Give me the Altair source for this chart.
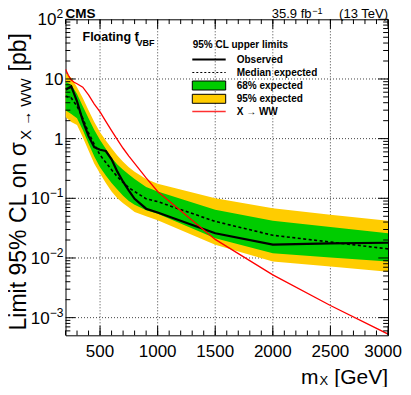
import altair as alt
import pandas as pd

# ---------------- data ----------------
mass = [200, 250, 300, 350, 400, 450, 500, 550, 600, 650, 700, 750, 800, 900, 1000, 1500, 2000, 2500, 3000]
observed = [6.6, 7.5, 4.2, 2.0, 1.1, 0.72, 0.65, 0.62, 0.45, 0.28, 0.19, 0.135, 0.098, 0.067, 0.058, 0.026, 0.0168, 0.0176, 0.018]
expected = [5.2, 4.8, 3.5, 2.2, 1.25, 0.8, 0.53, 0.4, 0.3, 0.23, 0.185, 0.15, 0.13, 0.098, 0.088, 0.041, 0.024, 0.0185, 0.0142]
band68_hi = [9.0, 8.0, 5.6, 3.5, 2.2, 1.4, 0.95, 0.68, 0.48, 0.37, 0.30, 0.25, 0.21, 0.155, 0.13, 0.064, 0.042, 0.033, 0.026]
band68_lo = [3.0, 2.6, 2.2, 1.4, 0.83, 0.5, 0.33, 0.24, 0.18, 0.14, 0.11, 0.09, 0.078, 0.063, 0.055, 0.0215, 0.012, 0.0102, 0.0087]
band95_hi = [12.5, 10.5, 7.3, 4.8, 3.0, 1.9, 1.28, 0.93, 0.69, 0.52, 0.41, 0.33, 0.28, 0.21, 0.175, 0.10, 0.068, 0.053, 0.042]
band95_lo = [2.3, 1.9, 1.7, 1.05, 0.63, 0.38, 0.26, 0.18, 0.13, 0.10, 0.083, 0.07, 0.059, 0.05, 0.043, 0.0166, 0.0087, 0.0072, 0.0059]

xww_mass = [200, 225, 250, 275, 300, 350, 400, 450, 500, 550, 600, 650, 700, 750, 800, 900, 1000, 1500, 2000, 2500, 3000]
xww_xsec = [14.5, 11.5, 9.6, 8.8, 8.3, 7.3, 5.4, 3.8, 2.8, 1.95, 1.36, 0.96, 0.69, 0.51, 0.385, 0.22, 0.13, 0.0205, 0.0052, 0.0016, 0.00053]

x_major = [500, 1000, 1500, 2000, 2500, 3000]
x_minor = list(range(200, 3001, 100))
y_major = [0.001, 0.01, 0.1, 1, 10, 100]
y_minor = [k * 10.0 ** d for d in range(-4, 2) for k in range(2, 10) if 5.1e-4 <= k * 10.0 ** d <= 100]
x_grid = [500, 1000, 1500, 2000, 2500]
y_grid = [0.001, 0.01, 0.1, 1, 10]

y_label_plain = [(10, "10"), (1, "1")]
y_label_exp = [(100, "2"), (0.1, "\u22121"), (0.01, "\u22122"), (0.001, "\u22123")]

legend_title = "95% CL upper limits"
legend_labels = ["Observed", "Median expected", "68% expected", "95% expected", "X \u2192 WW"]

# ---------------- geometry ----------------
W, H = 322.5, 316.0
OX, OY = 65.5, 19.3          # page position of plot origin
FONT = "Liberation Sans"
SVG_W, SVG_H = 395, 379


def px(x):
    return x - OX


def py(y):
    return y - OY


xsc = alt.Scale(domain=[200, 3000], nice=False, zero=False)
ysc = alt.Scale(type="log", domain=[5.06e-4, 100], nice=False)

df = pd.DataFrame({
    "m": mass, "obs": observed, "exp": expected,
    "g_hi": band68_hi, "g_lo": band68_lo, "y_hi": band95_hi, "y_lo": band95_lo,
})
dred = pd.DataFrame({"m": xww_mass, "xs": xww_xsec})

X = lambda f: alt.X(f, type="quantitative", scale=xsc, axis=None)
Y = lambda f: alt.Y(f, type="quantitative", scale=ysc, axis=None)

one = pd.DataFrame({"a": [0]})


def txt(s, x, y, size, bold=False, align="left", baseline="alphabetic", angle=0, color="black"):
    kw = dict(text=s, fontSize=size, align=align, baseline=baseline, font=FONT, color=color)
    if bold:
        kw["fontWeight"] = "bold"
    if angle:
        kw["angle"] = angle
    return alt.Chart(one).mark_text(**kw).encode(x=alt.value(px(x)), y=alt.value(py(y)))


layers = []

# grid
layers.append(alt.Chart(pd.DataFrame({"v": x_grid})).mark_rule(
    color="#444", strokeDash=[1, 2], strokeWidth=1).encode(x=X("v")))
layers.append(alt.Chart(pd.DataFrame({"v": y_grid})).mark_rule(
    color="#444", strokeDash=[1, 2], strokeWidth=1).encode(y=Y("v")))

# bands
layers.append(alt.Chart(df).mark_area(color="#ffcc00", clip=True).encode(
    x=X("m"), y=Y("y_lo"), y2="y_hi"))
layers.append(alt.Chart(df).mark_area(color="#00cc00", clip=True).encode(
    x=X("m"), y=Y("g_lo"), y2="g_hi"))

# lines
layers.append(alt.Chart(df).mark_line(color="black", strokeWidth=1.6, strokeDash=[3, 2.5], clip=True).encode(
    x=X("m"), y=Y("exp")))
layers.append(alt.Chart(df).mark_line(color="black", strokeWidth=2.2, clip=True).encode(
    x=X("m"), y=Y("obs")))
layers.append(alt.Chart(dred).mark_line(color="#ff0000", strokeWidth=1.3, clip=True).encode(
    x=X("m"), y=Y("xs")))

# ticks (inward, all four sides)
XMAJ, XMIN, YMAJ, YMIN = 9.5, 4.75, 9.7, 4.85
for vals, L in ((x_minor, XMIN), (x_major, XMAJ)):
    d = pd.DataFrame({"v": vals})
    layers.append(alt.Chart(d).mark_rule(color="black", strokeWidth=1).encode(
        x=X("v"), y=alt.value(H), y2=alt.value(H - L)))
    layers.append(alt.Chart(d).mark_rule(color="black", strokeWidth=1).encode(
        x=X("v"), y=alt.value(0), y2=alt.value(L)))
for vals, L in ((y_minor, YMIN), (y_major, YMAJ)):
    d = pd.DataFrame({"v": vals})
    layers.append(alt.Chart(d).mark_rule(color="black", strokeWidth=1).encode(
        y=Y("v"), x=alt.value(0), x2=alt.value(L)))
    layers.append(alt.Chart(d).mark_rule(color="black", strokeWidth=1).encode(
        y=Y("v"), x=alt.value(W), x2=alt.value(W - L)))

# x tick labels (last one nudged so it stays inside the page)
xl = pd.DataFrame({"v": x_major, "t": [str(v) for v in x_major]})
layers.append(alt.Chart(xl[xl.v < 3000]).mark_text(
    font=FONT, fontSize=17, align="center", baseline="alphabetic").encode(
    x=X("v"), y=alt.value(py(357)), text="t:N"))
layers.append(alt.Chart(xl[xl.v == 3000]).mark_text(
    font=FONT, fontSize=17, align="right", baseline="alphabetic", dx=14).encode(
    x=X("v"), y=alt.value(py(357)), text="t:N"))

# y tick labels
LBL = 17
SUP = 12
right_edge = px(63.5)
dpl = pd.DataFrame({"v": [a for a, b in y_label_plain], "t": [b for a, b in y_label_plain]})
layers.append(alt.Chart(dpl).mark_text(font=FONT, fontSize=LBL, align="right", baseline="middle", dy=1).encode(
    y=Y("v"), x=alt.value(right_edge), text="t:N"))
sup_w = {"2": 7.0, "\u22121": 13.8, "\u22122": 13.8, "\u22123": 13.8}
dex = pd.DataFrame({
    "v": [a for a, b in y_label_exp],
    "e": [b for a, b in y_label_exp],
    "b": ["10"] * len(y_label_exp),
    "bx": [right_edge - sup_w[b] for a, b in y_label_exp],
})
layers.append(alt.Chart(dex).mark_text(font=FONT, fontSize=LBL, align="right", baseline="middle", dy=1).encode(
    y=Y("v"), x=alt.X("bx:Q", scale=None), text="b:N"))
layers.append(alt.Chart(dex).mark_text(font=FONT, fontSize=SUP, align="left", baseline="middle", dy=-5).encode(
    y=Y("v"), x=alt.X("bx:Q", scale=None), text="e:N"))

# axis titles
layers.append(txt("[GeV]", 388, 384, 21, align="right"))
layers.append(txt("m", 318.5, 384, 21, align="right"))
layers.append(txt("X", 319.5, 385, 13, align="left"))

# y title (rotated, reads bottom to top)
YT = 26
layers.append(txt("Limit 95% CL on \u03c3", YT, 142, 23, align="right", angle=270))
layers.append(txt("X \u2192 WW", YT + 4.5, 140, 15, align="left", angle=270))
layers.append(txt("[pb]", YT, 33, 23, align="right", angle=270))

# header texts
layers.append(txt("CMS", 65.5, 17.5, 13.5, bold=True))
layers.append(txt("(13 TeV)", 388, 17.5, 13, align="right"))
layers.append(txt("35.9 fb", 311.5, 17.5, 13, align="right"))
layers.append(txt("\u22121", 312.3, 14.5, 9))
layers.append(txt("Floating f", 82.5, 40.5, 12.5, bold=True))
layers.append(txt("VBF", 136.5, 46, 9, bold=True))

# legend
LX1, LX2, TX = 192.3, 225.7, 236.7
ys = [59.5, 72.5, 85.5, 98.8, 111.5]
layers.append(txt(legend_title, 192.7, 48.3, 10, bold=True))
layers.append(alt.Chart(one).mark_rule(color="black", strokeWidth=2.2).encode(
    x=alt.value(px(LX1)), x2=alt.value(px(LX2)), y=alt.value(py(ys[0]))))
layers.append(alt.Chart(one).mark_rule(color="black", strokeWidth=1.2, strokeDash=[2, 2]).encode(
    x=alt.value(px(LX1)), x2=alt.value(px(LX2)), y=alt.value(py(ys[1]))))
layers.append(alt.Chart(one).mark_rect(fill="#00cc00", stroke="black", strokeWidth=1).encode(
    x=alt.value(px(LX1)), x2=alt.value(px(LX2)), y=alt.value(py(ys[2] - 4.5)), y2=alt.value(py(ys[2] + 4.5))))
layers.append(alt.Chart(one).mark_rect(fill="#ffcc00", stroke="black", strokeWidth=1).encode(
    x=alt.value(px(LX1)), x2=alt.value(px(LX2)), y=alt.value(py(ys[3] - 4.5)), y2=alt.value(py(ys[3] + 4.5))))
layers.append(alt.Chart(one).mark_rule(color="#ff3030", strokeWidth=1.3).encode(
    x=alt.value(px(LX1)), x2=alt.value(px(LX2)), y=alt.value(py(ys[4]))))
for lab, yy in zip(legend_labels, ys):
    layers.append(txt(lab, TX, yy + 0.5, 10, bold=True, baseline="middle"))

chart = alt.layer(*layers).properties(
    width=W, height=H,
    autosize=alt.AutoSizeParams(type="none"),
    padding={"left": OX - 8, "top": OY - 8, "right": SVG_W - (OX - 8) - W, "bottom": SVG_H - (OY - 8) - H},
    background="white",
).configure_view(stroke="black", strokeWidth=1)

chart.save("out.html", embed_options={"renderer": "svg", "actions": False})
